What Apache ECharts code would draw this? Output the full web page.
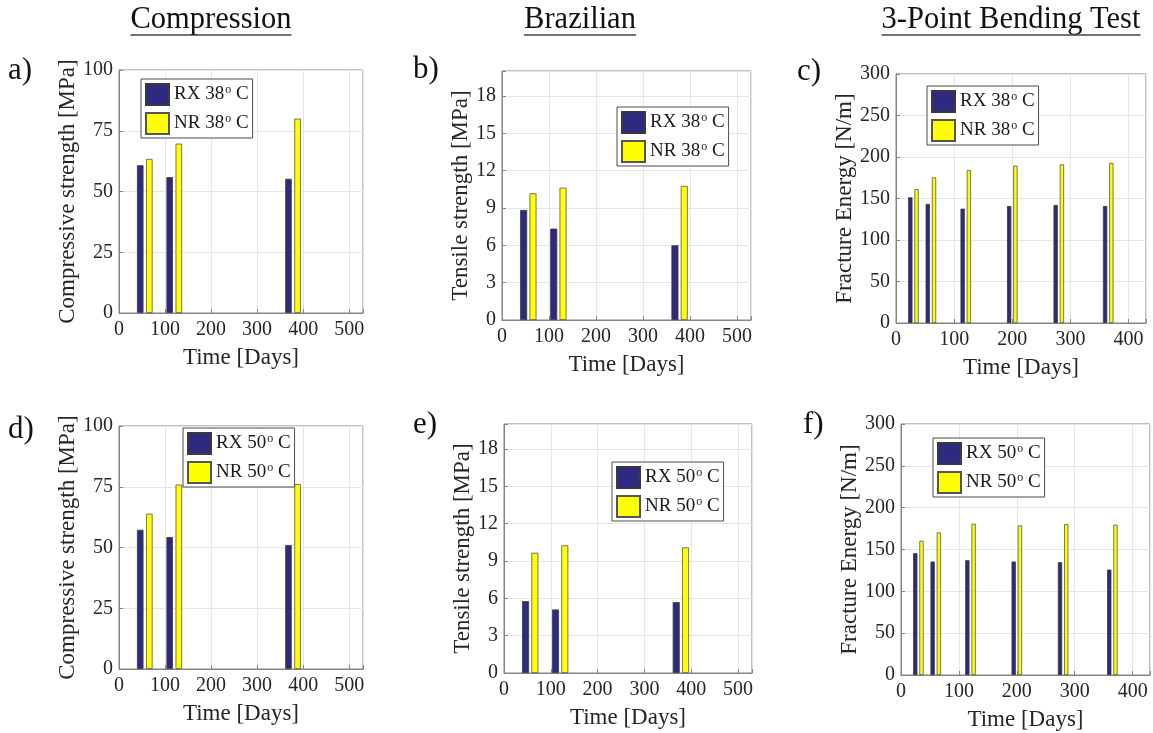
<!DOCTYPE html>
<html>
<head>
<meta charset="utf-8">
<script src="https://cdn.jsdelivr.net/npm/echarts@6/dist/echarts.min.js"></script>
<style>
  html, body { margin: 0; padding: 0; background: #ffffff; }
  #chart { width: 1153px; height: 733px; }
</style>
</head>
<body>
<div id="chart"></div>
<script>
// Ageing time (days) at which specimens were tested
const compDays = [56, 120, 378];
const tensDays = [56, 120, 378];
const fracDays = [30, 60, 120, 200, 280, 365];

// Compressive strength [MPa]
const compRX38 = [60.8, 55.9, 55.2];
const compNR38 = [63.4, 69.7, 80.0];
const compRX50 = [57.3, 54.3, 51.0];
const compNR50 = [63.9, 75.9, 76.1];

// Tensile (Brazilian) strength [MPa]
const tensRX38 = [8.84, 7.34, 6.0];
const tensNR38 = [10.18, 10.63, 10.77];
const tensRX50 = [5.77, 5.10, 5.69];
const tensNR50 = [9.66, 10.25, 10.09];

// Fracture energy [N/m]
const fracRX38 = [151.4, 143.4, 137.8, 141.0, 142.2, 141.0];
const fracNR38 = [161.4, 175.5, 184.3, 189.6, 191.2, 192.8];
const fracRX50 = [145.6, 135.6, 137.2, 135.6, 134.8, 126.0];
const fracNR50 = [160.4, 170.4, 180.8, 178.8, 180.4, 179.6];

// Tick labels
const dayTicksLong = [0, 100, 200, 300, 400, 500];
const dayTicksShort = [0, 100, 200, 300, 400];
const compTicks = [0, 25, 50, 75, 100];
const tensTicks = [0, 3, 6, 9, 12, 15, 18];
const fracTicks = [0, 50, 100, 150, 200, 250, 300];

// Text
const columnTitles = ['Compression', 'Brazilian', '3-Point Bending Test'];
const panelLetters = ['a)', 'b)', 'c)', 'd)', 'e)', 'f)'];
const xAxisName = 'Time [Days]';
const yNames = ['Compressive strength [MPa]', 'Tensile strength [MPa]', 'Fracture Energy [N/m]'];
const seriesNames38 = ['RX 38° C', 'NR 38° C'];
const seriesNames50 = ['RX 50° C', 'NR 50° C'];

const SERIF = '"Liberation Serif", "Times New Roman", serif';
const TEXT = '#262626';
const AXIS = '#858585';
const GRIDLINE = '#e6e6e6';
const RX_COLOR = '#2e2a80';
const NR_COLOR = '#ffff00';

// Layout of the six panels
const panels = [
  { grid: [119, 70, 244, 243], days: compDays, rx: compRX38, nr: compNR38, names: seriesNames38,
    xMax: 530, xTicks: dayTicksLong, yMax: 100, yInt: 25, yTicks: compTicks, yName: yNames[0], yGap: 39,
    legend: [141, 79], barW: 6.5, barGap: '40%' },
  { grid: [502, 71, 249, 249], days: tensDays, rx: tensRX38, nr: tensNR38, names: seriesNames38,
    xMax: 530, xTicks: dayTicksLong, yMax: 20, yInt: 3, yTicks: tensTicks, yName: yNames[1], yGap: 28,
    legend: [617, 107], barW: 7, barGap: '33%' },
  { grid: [896, 74, 250, 249], days: fracDays, rx: fracRX38, nr: fracNR38, names: seriesNames38,
    xMax: 430, xTicks: dayTicksShort, yMax: 300, yInt: 50, yTicks: fracTicks, yName: yNames[2], yGap: 40,
    legend: [927, 86], barW: 4.3, barGap: '45%' },
  { grid: [119, 426, 244, 243], days: compDays, rx: compRX50, nr: compNR50, names: seriesNames50,
    xMax: 530, xTicks: dayTicksLong, yMax: 100, yInt: 25, yTicks: compTicks, yName: yNames[0], yGap: 39,
    legend: [183, 428], barW: 6.5, barGap: '40%' },
  { grid: [504, 424, 248, 249], days: tensDays, rx: tensRX50, nr: tensNR50, names: seriesNames50,
    xMax: 530, xTicks: dayTicksLong, yMax: 20, yInt: 3, yTicks: tensTicks, yName: yNames[1], yGap: 28,
    legend: [612, 462], barW: 7, barGap: '33%' },
  { grid: [901, 424, 250, 251], days: fracDays, rx: fracRX50, nr: fracNR50, names: seriesNames50,
    xMax: 430, xTicks: dayTicksShort, yMax: 300, yInt: 50, yTicks: fracTicks, yName: yNames[2], yGap: 40,
    legend: [933, 438], barW: 4.3, barGap: '45%' }
];

const titlePos = [[211, 20], [580, 20], [1011, 20]];
const letterPos = [[8, 71], [413, 70], [797, 72], [8, 430], [413, 425], [803, 425]];

function pairs(xs, ys) { return xs.map((x, i) => [x, ys[i]]); }
function tickFormatter(list) { return v => (list.indexOf(v) >= 0 ? String(v) : ''); }

// Legend label: "RX 38" + superscript o + " C"
function legendLabel(name) {
  const parts = name.split('°');
  return '{t|' + parts[0] + '}{s|o}{t|' + parts[1] + '}';
}

const grids = [], xAxes = [], yAxes = [], series = [], legends = [];

panels.forEach((p, i) => {
  grids.push({
    left: p.grid[0], top: p.grid[1], width: p.grid[2], height: p.grid[3],
    show: true, borderColor: AXIS, borderWidth: 1, backgroundColor: '#ffffff'
  });
  xAxes.push({
    type: 'value', gridIndex: i, min: 0, max: p.xMax, interval: 100,
    name: xAxisName, nameLocation: 'middle', nameGap: 33,
    nameTextStyle: { fontFamily: SERIF, fontSize: 23, color: TEXT },
    axisLine: { show: true, onZero: false, lineStyle: { color: AXIS } },
    axisTick: { show: true, inside: true, length: 4, lineStyle: { color: AXIS } },
    axisLabel: { fontFamily: SERIF, fontSize: 20, color: TEXT, margin: 7, formatter: tickFormatter(p.xTicks) },
    splitLine: { show: true, lineStyle: { color: GRIDLINE } }
  });
  yAxes.push({
    type: 'value', gridIndex: i, min: 0, max: p.yMax, interval: p.yInt,
    name: p.yName, nameLocation: 'middle', nameGap: p.yGap,
    nameTextStyle: { fontFamily: SERIF, fontSize: 23, color: TEXT },
    axisLine: { show: true, lineStyle: { color: AXIS } },
    axisTick: { show: true, inside: true, length: 4, lineStyle: { color: AXIS } },
    axisLabel: { fontFamily: SERIF, fontSize: 20, color: TEXT, margin: 6, formatter: tickFormatter(p.yTicks) },
    splitLine: { show: true, lineStyle: { color: GRIDLINE } }
  });
  series.push({
    type: 'bar', name: p.names[0], xAxisIndex: i, yAxisIndex: i,
    data: pairs(p.days, p.rx), barWidth: p.barW, barGap: p.barGap,
    itemStyle: { color: RX_COLOR, borderColor: '#3a3a3a', borderWidth: 0.8 },
    silent: true
  });
  series.push({
    type: 'bar', name: p.names[1], xAxisIndex: i, yAxisIndex: i,
    data: pairs(p.days, p.nr), barWidth: p.barW, barGap: p.barGap,
    itemStyle: { color: NR_COLOR, borderColor: '#555555', borderWidth: 0.8 },
    silent: true
  });
  legends.push({
    left: p.legend[0], top: p.legend[1], orient: 'vertical',
    data: p.names, icon: 'rect', itemWidth: 23, itemHeight: 21, itemGap: 6,
    padding: [4, 4, 3, 4], borderColor: '#4d4d4d', borderWidth: 1, backgroundColor: '#ffffff',
    selectedMode: false,
    formatter: legendLabel,
    textStyle: {
      rich: {
        t: { fontFamily: SERIF, fontSize: 19, color: '#1a1a1a', lineHeight: 21 },
        s: { fontFamily: SERIF, fontSize: 12, color: '#1a1a1a', lineHeight: 12, verticalAlign: 'top', padding: [0, 0, 0, 1] }
      }
    }
  });
});

// Column headings with an underline sized to the text
const measureCtx = document.createElement('canvas').getContext('2d');
const TITLE_SIZE = 30.5;
const graphics = [];
columnTitles.forEach((t, i) => {
  measureCtx.font = TITLE_SIZE + 'px "Liberation Serif"';
  const w = measureCtx.measureText(t).width;
  const [cx, cy] = titlePos[i];
  graphics.push({
    type: 'text', x: cx, y: cy,
    style: { text: t, fontFamily: SERIF, fontSize: TITLE_SIZE, fill: '#111111', align: 'center', verticalAlign: 'middle' }
  });
  graphics.push({
    type: 'line', shape: { x1: cx - w / 2, y1: cy + 15, x2: cx + w / 2, y2: cy + 15 },
    style: { stroke: '#444444', lineWidth: 1.5 }
  });
});
panelLetters.forEach((t, i) => {
  graphics.push({
    type: 'text', x: letterPos[i][0], y: letterPos[i][1],
    style: { text: t, fontFamily: SERIF, fontSize: 31, fill: '#111111', align: 'left', verticalAlign: 'middle' }
  });
});

const chart = echarts.init(document.getElementById('chart'), null, { renderer: 'canvas' });
chart.setOption({
  animation: false,
  backgroundColor: '#ffffff',
  grid: grids,
  xAxis: xAxes,
  yAxis: yAxes,
  legend: legends,
  series: series,
  graphic: graphics
});
</script>
</body>
</html>
